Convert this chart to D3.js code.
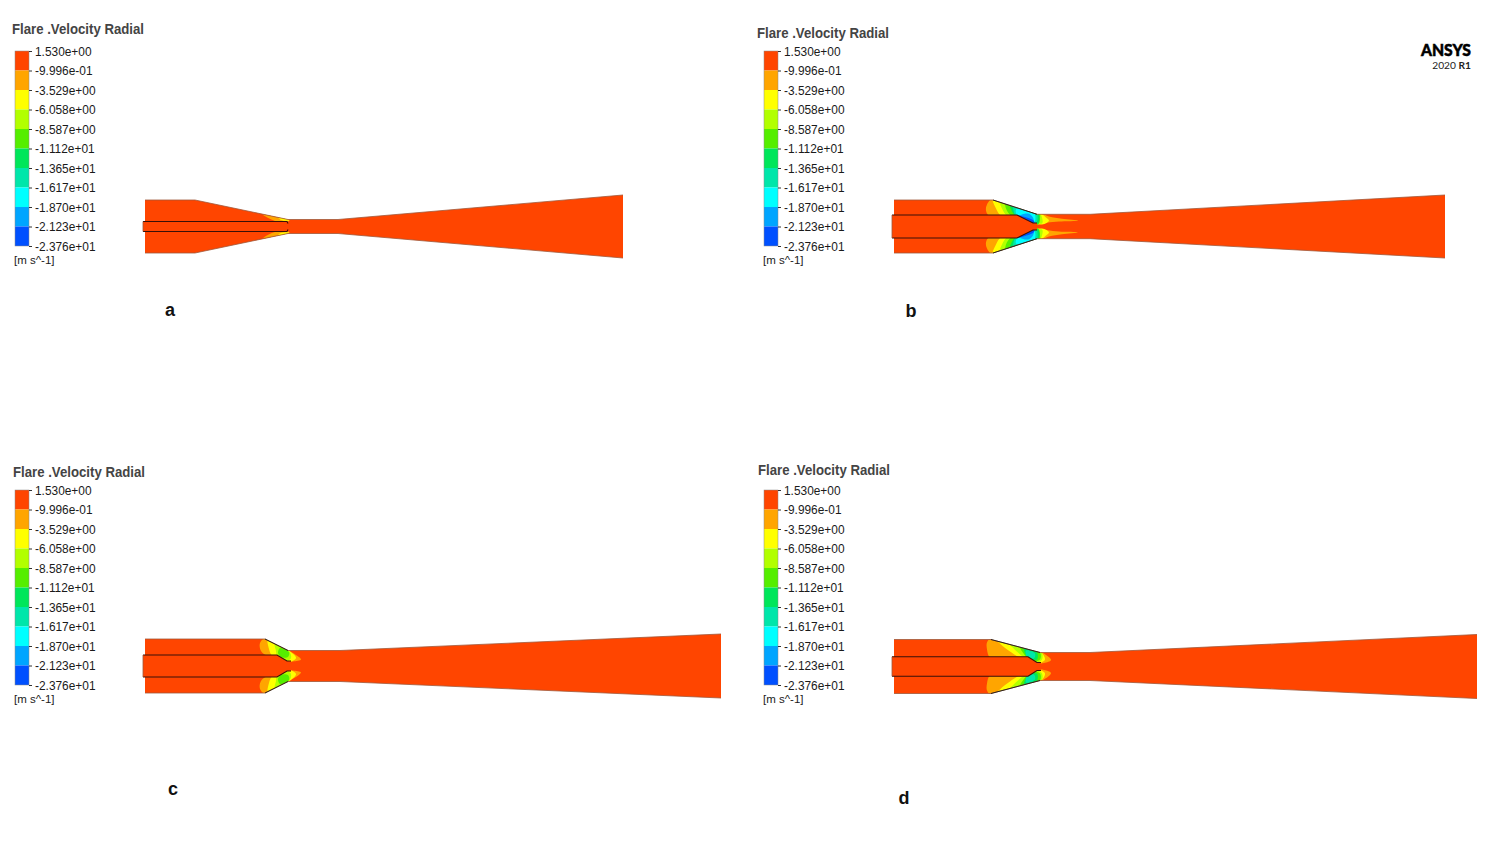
<!DOCTYPE html>
<html>
<head>
<meta charset="utf-8">
<style>
html,body{margin:0;background:#fff}
svg{display:block}
text{font-family:"Liberation Sans",Arial,sans-serif}
</style>
<script src="https://cdn.jsdelivr.net/npm/d3@7"></script>
</head>
<body>
<svg id="chart" width="1499" height="850"></svg>
<script>
// Colour legend: contour levels of radial velocity, m/s
const levelLabels = ["1.530e+00","-9.996e-01","-3.529e+00","-6.058e+00","-8.587e+00","-1.112e+01","-1.365e+01","-1.617e+01","-1.870e+01","-2.123e+01","-2.376e+01"];
const levelValues = [1.53,-0.9996,-3.529,-6.058,-8.587,-11.12,-13.65,-16.17,-18.70,-21.23,-23.76];
const bandColors = ["#ff4500","#ffa500","#ffff00","#b2ff00","#55ee00","#00e65a","#00e6aa","#00ffff","#00a5ff","#0050ff"];

// Flare geometry, [axial, radial] per case; the lower half is the mirror image
const wallA = [[0,26.5],[50,26.5],[143,7],[193,7],[478,31.5]];
const wallB = [[0,26.5],[99,26.5],[143,12.2],[196,12.2],[551,31.5]];
const wallC = [[0,27],[120,27],[143,15.5],[195,15.5],[576,32]];
const wallD = [[0,27],[97,27],[146,14],[196,14],[583,32]];

const nozzleA = [[-2,5],[142,5],[143,3]];
const nozzleB = [[-2,11.5],[123,11.5],[139,3.5],[143,3.5]];
const nozzleC = [[-2,11],[132,11],[142,5],[146,5]];
const nozzleD = [[-2,9.7],[134,9.7],[143,4],[147,4]];

// Closed contour regions, [velocity, outline of axial/radial points]
const plumesA = [
  [-2,[[118,12],[144,7.5],[144,5.2],[130,5.6]]],
  [-4.5,[[133,9.2],[144,7.2],[144,6],[136,6.6]]]
];
const plumesB = [
  [-2,[[93,22],[99,28],[146,14],[155,10],[168,7.8],[184,5.8],[165,5],[153,3.8],[140,2],[122,10],[95,11],[92,16]]],
  [-4.5,[[99,28],[145,14],[152,9],[155,6],[148,2],[122,10],[107,11],[102,18]]],
  [-7,[[106,26],[145,14],[148,9],[148,3],[122,10],[113,11],[108,18]]],
  [-10,[[112,25],[145,14],[146,8],[144,2],[122,10],[117,11],[112,18]]],
  [-12.5,[[116,24],[144,14],[144,3],[123,10],[118,15]]],
  [-15,[[120,23],[136,20],[143,13],[142,3],[122,10]]],
  [-17.5,[[122,17],[134,19],[141,12],[140,4],[124,10]]],
  [-20,[[125,11],[134,13],[139,9],[139.5,3],[124,10]]],
  [-23,[[122,11.5],[131,9.5],[140,5.5],[140,2.5]]]
];
const plumesC = [
  [-2,[[115,23],[121,28],[143,16],[156,6.5],[148,4.5],[141,4],[132,10],[122,10.5],[116,15]]],
  [-4.5,[[123,27],[143,16],[151,8],[143,4],[132,10],[127,10.5],[124,17]]],
  [-7,[[130,22],[144,15],[146,8],[140,4.5],[132,10],[131,15]]],
  [-10,[[135,18],[144,14],[143,9],[136,9],[133,13]]]
];
const plumesD = [
  [-2,[[93,24],[97,28],[146,15],[157,6.5],[150,3.5],[140,3],[133,8.5],[108,9],[96,9],[93,17]]],
  [-4.5,[[103,27],[146,15],[151,7],[145,3.5],[134,8.5],[126,9],[116,15],[108,21]]],
  [-7,[[115,24],[147,15],[148,7],[141,3.5],[134,8.5],[130,9.5],[124,14]]],
  [-10,[[126,20],[146,14],[146,7],[139,5],[133,9]]],
  [-12.5,[[130,18],[143,14],[143,7],[135,8]]],
  [-15,[[132,16],[141,13],[140,8],[133,9.7]]]
];

const svg = d3.select("#chart");
const legendTitle = "Flare .Velocity Radial";
const unitLabel = "[m s^-1]";

// Velocity -> band colour, with thresholds running from lowest to highest level
const bandOf = d3.scaleThreshold()
  .domain(levelValues.slice(1, -1).reverse())
  .range(bandColors.slice().reverse());

function drawLegend(x, y, titleX, titleY) {
  const g = svg.append("g");
  const levelY = d3.scalePoint().domain(levelLabels).range([y, y + 195]);
  levelLabels.slice(0, -1).forEach((lab, i) => {
    const top = levelY(lab), bottom = levelY(levelLabels[i + 1]);
    g.append("rect").attr("x", x).attr("y", top).attr("width", 14)
      .attr("height", bottom - top).attr("fill", bandColors[i]);
  });
  g.append("rect").attr("x", x).attr("y", y).attr("width", 14).attr("height", 195)
    .attr("fill", "none").attr("stroke", "#8a8a8a").attr("stroke-width", 0.5);
  const axis = g.append("g").attr("transform", `translate(${x + 14},0)`)
    .call(d3.axisRight(levelY).tickSize(3).tickPadding(3));
  axis.select(".domain").remove();
  axis.selectAll("line").attr("stroke", "#333");
  axis.selectAll("text").attr("font-size", 11.9).attr("fill", "#1a1a1a").attr("dy", "0.36em")
    .style("font-family", '"Liberation Sans",Arial,sans-serif');
  g.append("text").attr("x", x - 1).attr("y", y + 213).attr("font-size", 11.5)
    .attr("fill", "#1a1a1a").text(unitLabel);
  g.append("text").attr("x", titleX).attr("y", titleY).attr("font-size", 14)
    .attr("font-weight", "bold").attr("fill", "#444")
    .attr("textLength", 132).attr("lengthAdjust", "spacingAndGlyphs").text(legendTitle);
}

function drawFlare(id, x0, cy, wall, nozzle, plumes, darkThroat) {
  const length = d3.max(wall, d => d[0]);
  const ax = d3.scaleLinear().domain([0, length]).range([x0, x0 + length]);
  const rad = d3.scaleLinear().domain([-40, 40]).range([cy + 40, cy - 40]);
  const g = svg.append("g");
  const px = (a, r) => [ax(a), rad(r)];

  const outline = wall.map(d => px(d[0], d[1]))
    .concat(wall.slice().reverse().map(d => px(d[0], -d[1])));
  const closed = d3.line().curve(d3.curveLinearClosed);
  const smooth = d3.line().curve(d3.curveCatmullRomClosed.alpha(0.5));
  const open = d3.line();

  g.append("clipPath").attr("id", id).append("path").attr("d", closed(outline));
  g.append("path").attr("d", closed(outline)).attr("fill", bandColors[0]);

  const field = g.append("g").attr("clip-path", `url(#${id})`);
  [1, -1].forEach(side => {
    plumes.forEach(([v, pts]) => {
      field.append("path")
        .attr("d", smooth(pts.map(d => px(d[0], side * d[1]))))
        .attr("fill", bandOf(v));
    });
  });

  // Centre nozzle body sits over the annular field
  const body = nozzle.map(d => px(d[0], d[1]))
    .concat(nozzle.slice().reverse().map(d => px(d[0], -d[1])));
  g.append("path").attr("d", closed(body)).attr("fill", bandColors[0]);

  // Outer walls: faint on the straight runs, dark along the converging section
  [1, -1].forEach(side => {
    g.append("path").attr("d", open(wall.map(d => px(d[0], side * d[1]))))
      .attr("fill", "none").attr("stroke", "#a0583a").attr("stroke-width", 0.8);
    if (darkThroat) {
      g.append("path").attr("d", open(wall.slice(1, 3).map(d => px(d[0], side * d[1]))))
        .attr("fill", "none").attr("stroke", "#1c1c1c").attr("stroke-width", 0.9);
    }
    g.append("path").attr("d", open(nozzle.map(d => px(d[0], side * d[1]))))
      .attr("fill", "none").attr("stroke", "#3a1008").attr("stroke-width", 1.1);
  });
  g.append("path")
    .attr("d", open([[nozzle[0][0], nozzle[0][1]], [nozzle[0][0], -nozzle[0][1]]].map(d => px(d[0], d[1]))))
    .attr("fill", "none").attr("stroke", "#a0583a").attr("stroke-width", 0.8);
}

drawLegend(15, 51, 12, 34);
drawLegend(764, 51, 757, 38);
drawLegend(15, 490, 13, 477);
drawLegend(764, 490, 758, 475);

drawFlare("flareA", 145, 226.5, wallA, nozzleA, plumesA, false);
drawFlare("flareB", 894, 226.5, wallB, nozzleB, plumesB, true);
drawFlare("flareC", 145, 666, wallC, nozzleC, plumesC, true);
drawFlare("flareD", 894, 666.5, wallD, nozzleD, plumesD, true);

// Case letters
[["a",170,316],["b",911,317],["c",173,795],["d",904,804]].forEach(([t, x, y]) => {
  svg.append("text").attr("x", x).attr("y", y).attr("text-anchor", "middle")
    .attr("font-size", 18).attr("font-weight", "bold").attr("fill", "#111").text(t);
});

// Solver badge
svg.append("text").attr("x", 1471).attr("y", 55.5).attr("text-anchor", "end")
  .attr("font-size", 16).attr("font-weight", "900").attr("fill", "#000")
  .attr("stroke", "#000").attr("stroke-width", 0.5)
  .style("font-family", 'Lato,sans-serif')
  .attr("textLength", 50).attr("lengthAdjust", "spacingAndGlyphs").text("ANSYS");
const rel = svg.append("text").attr("x", 1471).attr("y", 69).attr("text-anchor", "end")
  .attr("font-size", 10.2).attr("fill", "#222").style("font-family", 'Lato,sans-serif');
rel.append("tspan").text("2020 ");
rel.append("tspan").attr("font-weight", "bold").text("R1");
</script>
</body>
</html>
